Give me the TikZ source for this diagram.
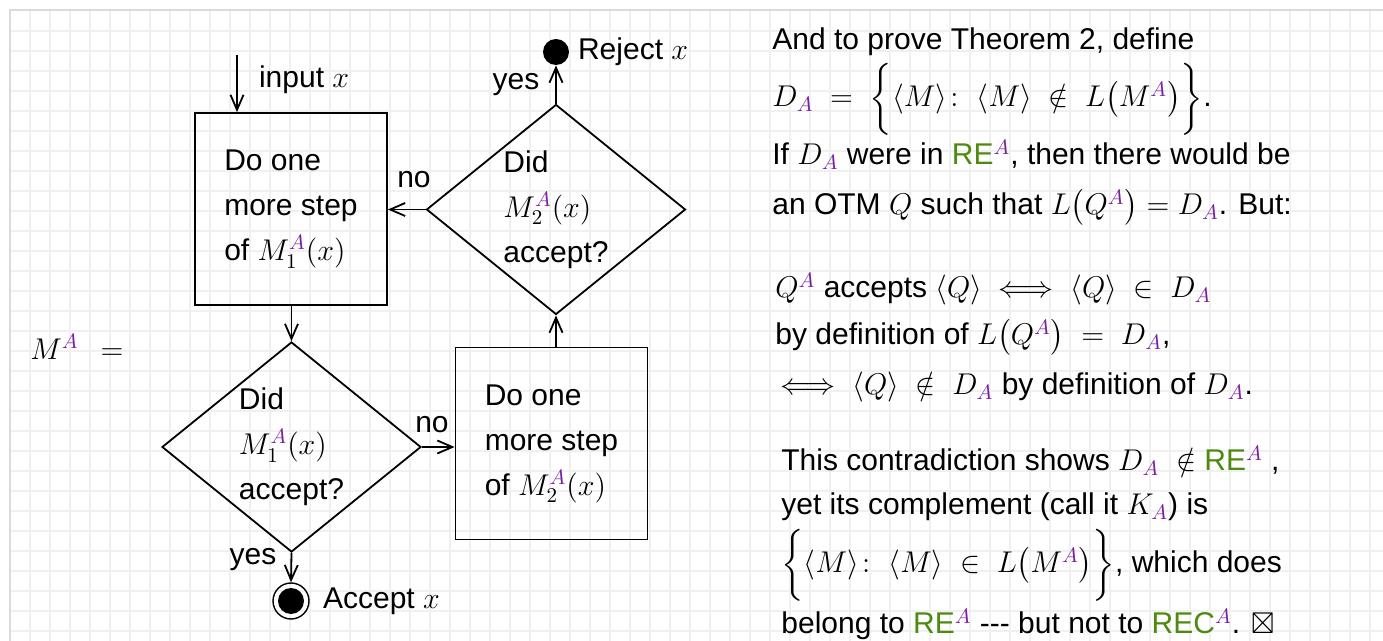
\documentclass[tikz,border=0pt]{standalone}
\usepackage{fix-cm}
\usepackage{amsmath}
\usepackage{amssymb}
\usepackage{fontspec}
\setmainfont{Liberation Sans}
\usepackage{tikz}
\usetikzlibrary{shapes.geometric,arrows.meta}

\definecolor{supA}{HTML}{7B1FA2}
\definecolor{reGreen}{HTML}{4F8A10}
\newcommand{\sA}{{\color{supA}A}}
\newcommand{\RE}{\textcolor{reGreen}{RE}}
\newcommand{\REC}{\textcolor{reGreen}{REC}}

\begin{document}
\begin{tikzpicture}[x=0.5pt, y=-0.5pt,
  every node/.style={font=\fontsize{15}{22.5}\selectfont},
  gridline/.style={black!6, line width=1pt},
  stepbox/.style={draw, line width=0.9pt, minimum size=96pt, inner sep=0pt, align=left},
  ask/.style={diamond, draw, line width=0.9pt, aspect=1.23, minimum width=129.5pt, minimum height=105pt, inner sep=0pt, align=left},
  flow/.style={-{Straight Barb[length=7.5pt,width=6.5pt]}, line width=0.9pt},
  txt/.style={anchor=base west, inner sep=0pt}]
  \useasboundingbox (0,0) rectangle (1383,641);
  \fill[white] (0,0) rectangle (1383,641);
  \foreach \gx in {30,50,...,1370} \draw[gridline] (\gx,10) -- (\gx,641);
  \foreach \gy in {31,51,...,631} \draw[gridline] (10,\gy) -- (1383,\gy);
  \draw[black!14, line width=0.6pt] (10,641) -- (10,10) -- (1383,10);

  % flowchart
  \node[anchor=west, inner sep=0pt] (ma) at (30,347) {$M^{\sA}$\hspace{11pt}$=$};
  \coordinate (in) at (237,55);
  \node[anchor=west] (inx) at (252,80) {input $x$};
  \node[stepbox] (b1) at (291,209) {Do one\\more step\\of $M_1^{\sA}(x)$};
  \node[ask] (d1) at (291.5,447) {Did\\$M_1^{\sA}(x)$\\accept?};
  \node[stepbox] (b2) at (551.5,443.5) {Do one\\more step\\of $M_2^{\sA}(x)$};
  \node[ask] (d2) at (556,209.5) {Did\\$M_2^{\sA}(x)$\\accept?};
  \node[circle, fill, inner sep=0pt, minimum size=13pt] (rej) at (556,52) {};
  \node[anchor=west] (rejx) at (571,52) {Reject $x$};
  \node[circle, draw, line width=0.7pt, inner sep=0pt, minimum size=18pt] (acc) at (291,601) {};
  \fill (acc) circle (6.5pt);
  \node[anchor=west] (accx) at (316,601) {Accept $x$};
  \node (yes1) at (253,560) {yes};
  \node (yes2) at (516,85) {yes};
  \node (no1) at (432,425) {no};
  \node (no2) at (414,180) {no};

  \draw[flow] (in) -- (in |- b1.north);
  \draw[flow] (b1.south -| d1.north) -- (d1.north);
  \draw[flow] (d1.east) -- (d1.east -| b2.west);
  \draw[flow] (b2.north -| d2.south) -- (d2.south);
  \draw[flow] (d2.west) -- (d2.west -| b1.east);
  \draw[flow] (d2.north) -- (rej.south);
  \draw[flow] (d1.south) -- (acc.north);

  % proof text
  \node[txt] (t1) at (772,50) {And to prove Theorem 2, define};
  \node[txt] (t2) at (772,107) {$D_{\sA} \;=\; \bigg\{\langle M\rangle\colon\ \langle M\rangle \;\notin\; L\big(M^{\sA}\big)\bigg\}$.};
  \node[txt] (t3) at (772,165) {If $D_{\sA}$ were in \RE$^{\sA}$, then there would be};
  \node[txt] (t4) at (772,215) {an OTM $Q$ such that $L\big(Q^{\sA}\big) = D_{\sA}$. But:};
  \node[txt] (t5) at (775,298) {$Q^{\sA}$ accepts $\langle Q\rangle \iff\langle Q\rangle \;\in\; D_{\sA}$};
  \node[txt] (t6) at (775,345) {by definition of $L\big(Q^{\sA}\big) \;=\; D_{\sA}$,};
  \node[txt] (t7) at (772,395) {$\iff\langle Q\rangle \;\notin\; D_{\sA}$ by definition of $D_{\sA}$.};
  \node[txt] (t8) at (781,471) {This contradiction shows $D_{\sA} \;\notin$ \RE$^{\sA}$ ,};
  \node[txt] (t9) at (781,515) {yet its complement (call it $K_{\sA}$) is};
  \node[txt] (t10) at (781,573) {$\bigg\{\langle M\rangle\colon\ \langle M\rangle \;\in\; L\big(M^{\sA}\big)\bigg\}$, which does};
  \node[txt] (t11) at (781,634) {belong to \RE$^{\sA}$ -{}-{}- but not to \REC$^{\sA}$. $\boxtimes$};
\end{tikzpicture}
\end{document}
